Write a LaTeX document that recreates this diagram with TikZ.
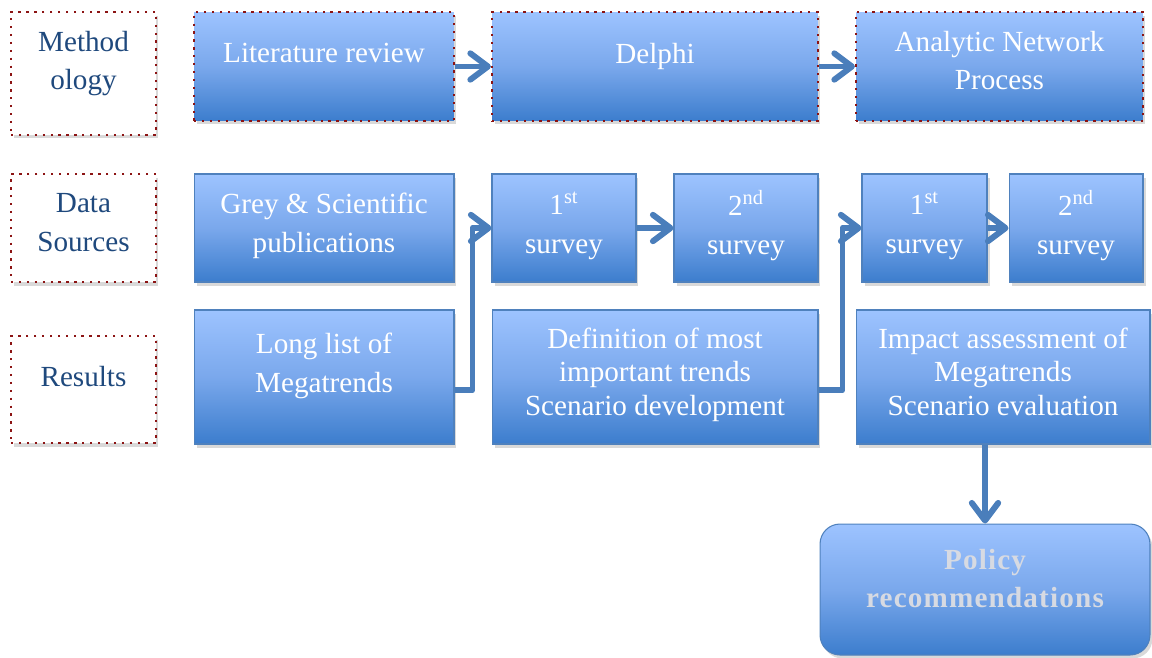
\documentclass[tikz,border=0pt]{standalone}
\usepackage{fontspec}
\setmainfont{Liberation Serif}
\usetikzlibrary{positioning, calc, arrows.meta, shadows}

\definecolor{boxtop}{RGB}{157,195,255}
\definecolor{boxmid}{RGB}{122,168,236}
\definecolor{boxbot}{RGB}{60,125,205}
\definecolor{boxedge}{RGB}{79,129,189}
\definecolor{flowblue}{RGB}{74,126,187}
\definecolor{dotred}{RGB}{140,20,20}
\definecolor{labelblue}{RGB}{31,73,125}
\definecolor{policygray}{RGB}{215,218,226}

\tikzset{
    boxshadow/.style={drop shadow={shadow xshift=0.05cm, shadow yshift=-0.07cm, opacity=0.3}},
    bluebox/.style={draw=boxedge, line width=0.6pt, top color=boxtop, bottom color=boxbot,
        middle color=boxmid, text=white, align=center, inner sep=2pt, boxshadow,
        font=\fontsize{16.6}{22}\selectfont},
    redrim/.style={draw=dotred, line width=1.3pt, dash pattern=on 1.3pt off 3.2pt},
    rowlabel/.style={redrim, fill=white, text=labelblue, align=center, inner sep=2pt,
        boxshadow, font=\fontsize{16.6}{22}\selectfont},
    lifted/.style={text depth=#1},
    flow/.style={draw=flowblue, line width=3.4pt, line join=round,
        -{Straight Barb[length=10pt, width=15pt, round]}}
}

\begin{document}
\begin{tikzpicture}[x=0.02cm, y=-0.02cm]

    \useasboundingbox (0,0) rectangle (1152,657);

    % Row labels
    \node[rowlabel, minimum width=2.9cm, minimum height=2.46cm, lifted=14.8pt]
        (meth) at (83.5,73.5) {Method\\ology};
    \node[rowlabel, minimum width=2.9cm, minimum height=2.16cm, lifted=6.3pt]
        (data) at (83.5,228) {Data\\Sources};
    \node[rowlabel, minimum width=2.9cm, minimum height=2.14cm, lifted=15.4pt]
        (res) at (83.5,389.5) {Results};

    % Methodology row
    \node[bluebox, redrim, minimum width=5.2cm, minimum height=2.18cm, lifted=15.4pt]
        (lit) at (324,66.5) {Literature review};
    \node[bluebox, redrim, minimum width=6.52cm, minimum height=2.18cm, lifted=15.4pt]
        (delphi) at (655,66.5) {Delphi};
    \node[bluebox, redrim, minimum width=5.74cm, minimum height=2.18cm, lifted=6.8pt]
        (anp) at (999.5,66.5) {Analytic Network\\Process};

    % Data sources row
    \node[bluebox, minimum width=5.2cm, minimum height=2.16cm, lifted=6.3pt]
        (grey) at (324,228) {Grey \& Scientific\\publications};
    \node[bluebox, minimum width=2.88cm, minimum height=2.16cm, lifted=6.3pt]
        (survA) at (564,228) {1\textsuperscript{st}\\survey};
    \node[bluebox, minimum width=2.88cm, minimum height=2.16cm, lifted=6.3pt]
        (survB) at (746,228) {2\textsuperscript{nd}\\survey};
    \node[bluebox, minimum width=2.5cm, minimum height=2.16cm, lifted=6.3pt]
        (survC) at (924.5,228) {1\textsuperscript{st}\\survey};
    \node[bluebox, minimum width=2.68cm, minimum height=2.16cm, lifted=6.3pt]
        (survD) at (1076,228) {2\textsuperscript{nd}\\survey};

    % Results row
    \node[bluebox, minimum width=5.2cm, minimum height=2.68cm, lifted=16.5pt]
        (long) at (324,377) {Long list of\\Megatrends};
    \node[bluebox, minimum width=6.52cm, minimum height=2.68cm, lifted=6.3pt,
        font=\fontsize{16.6}{19}\selectfont]
        (defn) at (655,377) {Definition of most\\important trends\\Scenario development};
    \node[bluebox, minimum width=5.88cm, minimum height=2.68cm, lifted=6.3pt,
        font=\fontsize{16.6}{19}\selectfont]
        (impact) at (1003,377) {Impact assessment of\\Megatrends\\Scenario evaluation};

    % Policy box
    \node[bluebox, rounded corners=0.4cm, minimum width=6.6cm, minimum height=2.62cm,
        lifted=12.5pt, text=policygray,
        font=\fontsize{16.6}{21.5}\selectfont\bfseries\addfontfeatures{LetterSpace=4}]
        (policy) at (985,589.5) {Policy\\recommendations};

    % Arrows
    \draw[flow] (lit) -- (delphi);
    \draw[flow] (delphi) -- (anp);
    \draw[flow] (survA) -- (survB);
    \draw[flow] (survC) -- (survD);
    \draw[flow] ([yshift=-0.26cm]long.east) -| ([xshift=-0.38cm]survA.west) -- (survA.west);
    \draw[flow] ([yshift=-0.26cm]defn.east) -| ([xshift=-0.38cm]survC.west) -- (survC.west);
    \draw[flow] (policy.north |- impact.south) -- (policy.north);

\end{tikzpicture}
\end{document}
